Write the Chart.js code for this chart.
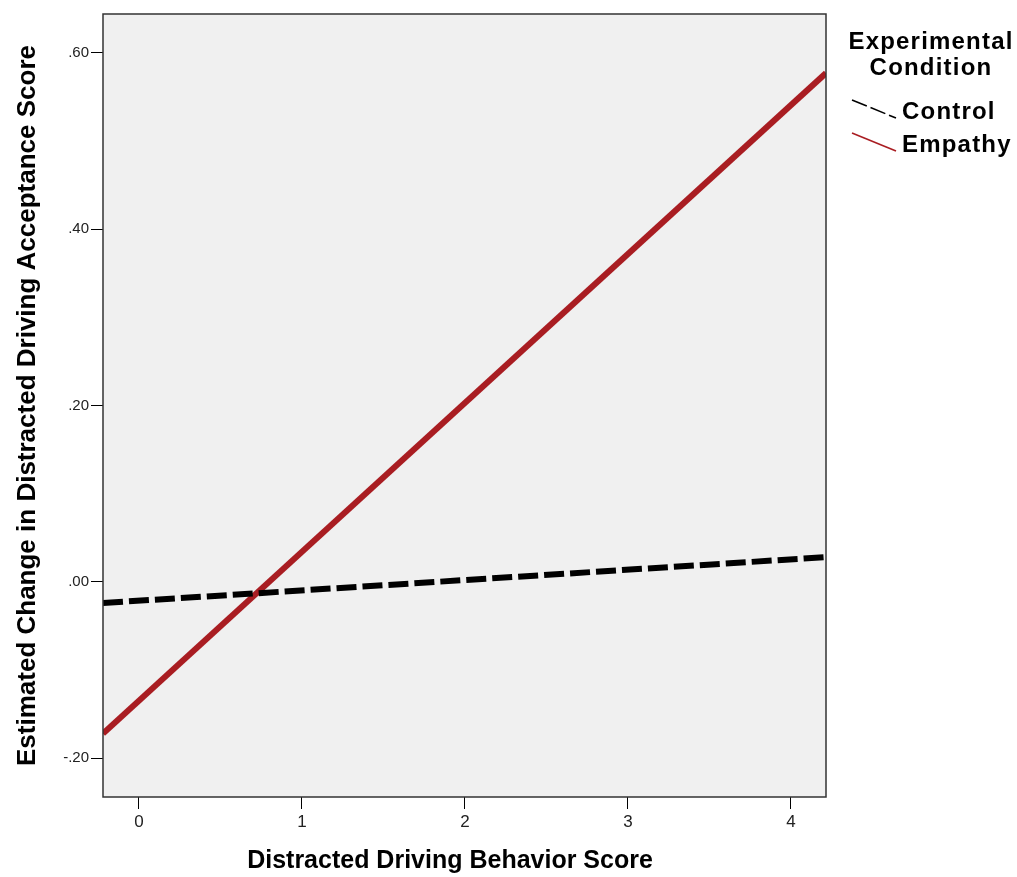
<!DOCTYPE html>
<html>
<head>
<meta charset="utf-8">
<title>Distracted Driving Acceptance</title>
<script src="https://cdn.jsdelivr.net/npm/chart.js@4.4.1/dist/chart.umd.min.js"></script>
<style>
    html, body { margin: 0; padding: 0; background: #fff; }
    #wrap { width: 1017px; height: 877px; position: relative; }
</style>
</head>
<body>
<div id="wrap"><canvas id="grafico"></canvas></div>
<script>
// Datos (rectas estimadas, extremos del eje X)
const xExtremos      = [-0.22, 4.215];
const controlValores = [-0.024, 0.028];
const empatiaValores = [-0.172, 0.577];
const condiciones    = ['Control', 'Empathy'];

const xTicks      = [0, 1, 2, 3, 4];
const yTicks      = [-0.2, 0, 0.2, 0.4, 0.6];
const yTickLabels = ['-.20', '.00', '.20', '.40', '.60'];

const tituloX = 'Distracted Driving Behavior Score';
const tituloY = 'Estimated Change in Distracted Driving Acceptance Score';

const ROJO  = '#A91D22';
const NEGRO = '#000000';
const SANS  = '"Liberation Sans Narrow", "Liberation Sans", Arial, sans-serif';

// Fondo gris y marco del área de trazado
const marcoPlugin = {
    id: 'marco',
    beforeDraw(chart) {
        const { ctx, chartArea: a } = chart;
        ctx.save();
        ctx.fillStyle = '#F0F0F0';
        ctx.fillRect(a.left, a.top, a.right - a.left, a.bottom - a.top);
        ctx.restore();
    },
    afterDraw(chart) {
        const { ctx, chartArea: a } = chart;
        ctx.save();
        ctx.strokeStyle = '#333';
        ctx.lineWidth = 1.5;
        ctx.strokeRect(a.left, a.top, a.right - a.left, a.bottom - a.top);

        // título del eje X (algo desplazado a la izquierda, como en el original)
        ctx.fillStyle = '#000';
        ctx.font = 'bold 25px ' + SANS;
        ctx.textAlign = 'center';
        ctx.textBaseline = 'middle';
        ctx.fillText(tituloX, 450, 861);
        ctx.restore();
    }
};

// Leyenda a la derecha con título en dos líneas
const leyendaPlugin = {
    id: 'leyenda',
    afterDraw(chart) {
        const { ctx } = chart;
        ctx.save();
        ctx.fillStyle = '#000';
        ctx.font = 'bold 24px ' + SANS;
        if ('letterSpacing' in ctx) ctx.letterSpacing = '1.2px';
        ctx.textAlign = 'center';
        ctx.textBaseline = 'middle';
        ctx.fillText('Experimental', 931, 42);
        ctx.fillText('Condition', 931, 68);

        ctx.textAlign = 'left';
        const filas = [112, 145];
        chart.data.datasets.forEach((ds, i) => {
            const y = filas[i];
            ctx.beginPath();
            ctx.strokeStyle = ds.borderColor;
            ctx.lineWidth = 1.6;
            ctx.setLineDash(i === 0 ? [16, 4] : []);
            ctx.moveTo(852, y - 12);
            ctx.lineTo(896, y + 6);
            ctx.stroke();
            ctx.setLineDash([]);
            ctx.fillStyle = '#000';
            ctx.fillText(ds.label, 902, y);
        });
        ctx.restore();
    }
};

new Chart(document.getElementById('grafico'), {
    type: 'line',
    data: {
        datasets: [
            {
                label: condiciones[0],
                data: xExtremos.map((x, i) => ({ x, y: controlValores[i] })),
                borderColor: NEGRO,
                borderWidth: 6,
                borderDash: [20, 6],
                pointRadius: 0,
                fill: false
            },
            {
                label: condiciones[1],
                data: xExtremos.map((x, i) => ({ x, y: empatiaValores[i] })),
                borderColor: ROJO,
                borderWidth: 6,
                pointRadius: 0,
                fill: false
            }
        ]
    },
    options: {
        responsive: true,
        maintainAspectRatio: false,
        animation: false,
        layout: { padding: { top: 14, right: 191, left: 0, bottom: 0 } },
        plugins: {
            legend: { display: false },
            tooltip: { enabled: false }
        },
        scales: {
            x: {
                type: 'linear',
                min: -0.22,
                max: 4.215,
                afterBuildTicks: s => { s.ticks = xTicks.map(v => ({ value: v })); },
                afterFit: s => { s.height = 80; },
                grid: { drawOnChartArea: false, drawTicks: true, tickLength: 12, color: '#000' },
                border: { display: false },
                ticks: {
                    color: '#222',
                    padding: 3,
                    font: { family: SANS, size: 17 },
                    callback: v => String(v)
                },
                title: { display: false }
            },
            y: {
                min: -0.244,
                max: 0.644,
                afterBuildTicks: s => { s.ticks = yTicks.map(v => ({ value: v })); },
                afterFit: s => { s.width = 103; },
                grid: { drawOnChartArea: false, drawTicks: true, tickLength: 12, color: '#000' },
                border: { display: false },
                ticks: {
                    color: '#222',
                    padding: 2,
                    font: { family: SANS, size: 15 },
                    callback: (v) => {
                        const i = yTicks.findIndex(t => Math.abs(t - v) < 1e-9);
                        return i >= 0 ? yTickLabels[i] : '';
                    }
                },
                title: {
                    display: true,
                    text: tituloY,
                    color: '#000',
                    font: { family: SANS, size: 26, weight: 'bold' },
                    padding: { top: 12, bottom: 0 }
                }
            }
        }
    },
    plugins: [marcoPlugin, leyendaPlugin]
});
</script>
</body>
</html>
